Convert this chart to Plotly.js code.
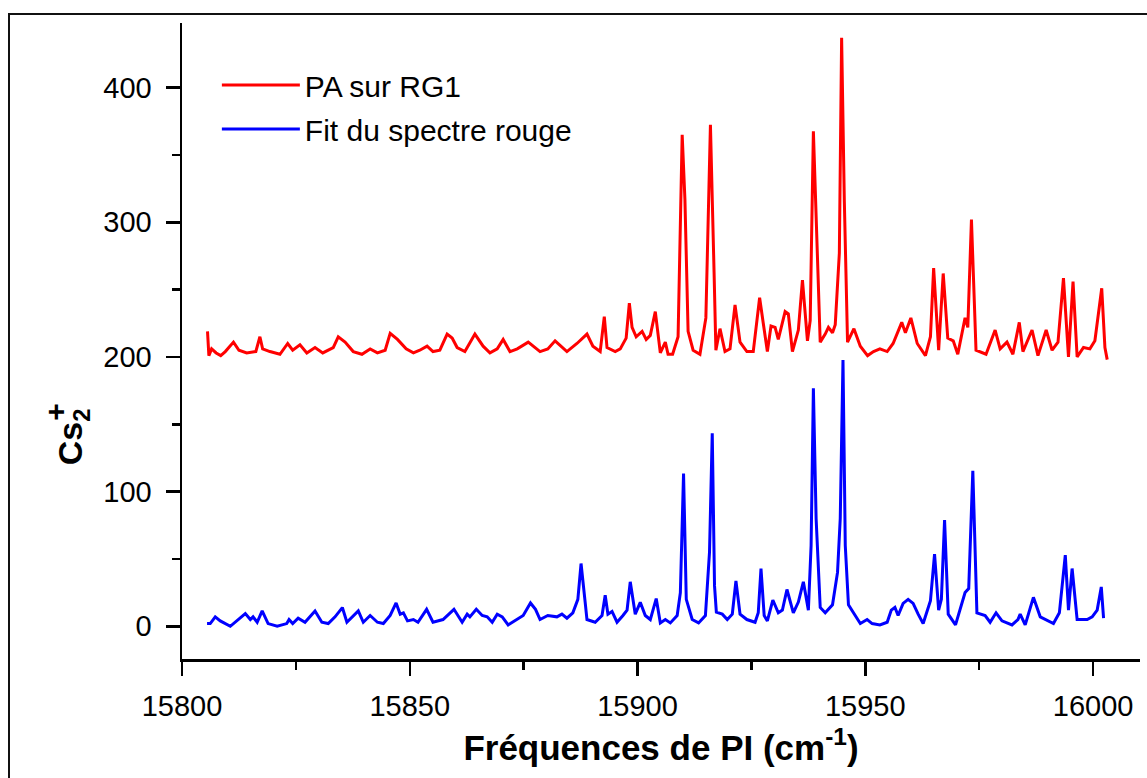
<!DOCTYPE html>
<html>
<head>
<meta charset="utf-8">
<script src="https://cdn.plot.ly/plotly-3.0.1.min.js"></script>
<style>
html,body{margin:0;padding:0;background:#fff;}
#wrap{position:relative;width:1147px;height:778px;overflow:hidden;}
#chart{position:absolute;left:0;top:0;width:1147px;height:778px;}
#frame{position:absolute;left:8px;top:13px;width:1200px;height:800px;border-left:2px solid #111;border-top:2px solid #111;pointer-events:none;}
</style>
</head>
<body>
<div id="wrap"><div id="chart"></div><div id="frame"></div></div>
<script>
// Red spectrum: "PA sur RG1"
const redX = [15805.6,15805.9,15806.5,15807.5,15808.5,15809.5,15811.3,15812.5,15814.2,15816.2,15817.1,15817.7,15819.3,15821.5,15823.2,15824.3,15825.9,15827.4,15829.2,15830.9,15833.2,15834.3,15835.8,15837.6,15839.5,15841.3,15842.9,15844.6,15845.7,15847.3,15849.2,15850.8,15852.2,15853.8,15855.1,15856.6,15858.2,15859.3,15860.4,15862.1,15864.3,15866.1,15867.6,15869.2,15870.5,15872,15873.6,15876,15878.6,15880.3,15881.9,15884.5,15886.7,15888.9,15890.2,15891.8,15892.7,15893.3,15895.1,15896.2,15897.5,15898.2,15898.8,15899.7,15901,15901.9,15902.8,15903.9,15905,15906.1,15906.7,15907.7,15908.9,15909.8,15910.4,15911.1,15912.2,15913.7,15915,15916,15916.8,15917.2,15918.1,15919.2,15920.3,15921.4,15922.5,15924,15925.4,15926.8,15927.6,15928.5,15929.3,15930.2,15930.9,15932.4,15933.1,15934,15935.3,15936.2,15937.3,15937.9,15938.6,15939.5,15940.1,15941.2,15941.9,15942.8,15943.4,15944.3,15944.8,15945.4,15946.1,15947.5,15948.9,15950.5,15951.8,15953.2,15954.8,15956.1,15958,15958.8,15960,15961.4,15963.2,15964.3,15965,15966.1,15967.1,15968.1,15969.3,15970.3,15971.9,15972.5,15973.3,15974.3,15976.5,15978.5,15979.6,15981.1,15982.4,15983.8,15984.6,15986.6,15987.9,15989.7,15991,15992.3,15993.5,15994.6,15995.6,15996.5,15997.9,15999.3,16000.4,16001.9,16002.6,16003.1];
const redY = [219,201,206,203,201,204,211,205,203,204,215,206,204,202,210,205,209,203,207,203,207,215,211,204,202,206,203,205,217.6,213,206,203,205,208,204,205,217,214,207,204,217,208,203,206,213,204,206,211,204,206,212,204,210,217,208,204,230,207,204,206,214,240,222,215,219,213,216,233.7,203,211,202,202,215,365,317,219,205,202,229,372.5,263,205,221,204,206,238.7,211,204,204,244,225,204,223,222,213,233.7,232,204,220,257,212,227,367.5,262,211,217,222,218,224,277,437,315,211,221,208,201,204,206,204,210,225.7,218,229,210,201,215,266,205,262,214,212,202,229,222,302,205,202,220,206,211,202,225.7,204,220,201,220,205,211,258.5,200,256,200,207,206,212,251,207,198];

// Blue spectrum: "Fit du spectre rouge"
const blueX = [15805.5,15806.2,15807.3,15808.4,15810.6,15812.1,15813.9,15815,15815.6,15816.5,15817.6,15818.9,15820.9,15823,15823.5,15824.3,15825.5,15827,15829.2,15830.7,15832.1,15833.6,15835.2,15836.2,15838.7,15839.8,15841.3,15842.9,15844.2,15845.7,15847,15847.9,15848.6,15849.5,15850.8,15851.8,15853.7,15855.1,15857.3,15859.7,15861.5,15862.6,15863.2,15864.6,15865.9,15867,15868.1,15869.2,15870.3,15871.6,15873.6,15874.9,15876.5,15877.6,15878.6,15880.3,15882.3,15883.4,15884.5,15885.2,15885.8,15886.9,15887.6,15888.5,15888.9,15890.7,15892.2,15892.9,15893.5,15894.4,15895.5,15896.8,15897.7,15898.4,15899.5,15900.6,15901.7,15902.8,15904.1,15905,15906.1,15907.2,15908.7,15909.4,15910.1,15910.7,15912,15913.4,15914.9,15915.8,15916.4,15916.9,15917.3,15918.6,15919.7,15920.8,15921.6,15922.5,15924,15925.8,15926.5,15927.1,15927.8,15928.5,15929.7,15930.9,15931.8,15932.8,15934.2,15935.3,15936.4,15937.5,15938.1,15938.6,15939.2,15940.1,15941.2,15942.8,15943.9,15944.5,15945.1,15945.6,15946.3,15947.4,15948.9,15950.4,15951.5,15953.2,15954.8,15955.7,15956.5,15957.2,15958.3,15959.4,15960.5,15961.6,15962.7,15964.3,15965.2,15966.1,15966.7,15967.4,15968.2,15969.8,15971.9,15972.7,15973.6,15974.5,15976.3,15977.4,15978.7,15980,15982.2,15983.5,15984,15985.1,15986.9,15988.4,15989.5,15991.3,15992.6,15993.9,15994.6,15995.4,15996.5,15998.7,15999.8,16000.9,16001.8,16002.3];
const blueY = [2,2,7,4,0,4,9.4,5,7,3,11.4,2,0,2,5,2,6,3,11.4,3,2,7,13.9,3,11.4,3,8,3,2,8,17.3,9,10,4,5,3,12.6,3,5,12.6,3,9,7,12.6,8,7,3,9,7,1,5,8,17.3,12.6,5,8,7,9,6,8,10,20,46.6,18,5,3,8,23,9,11,3,8,12,33,9,17.8,8,5,20.6,2.5,5,2.5,8,25,113.5,20,5,2.5,8,55,143.3,30,10.5,9,5,9,33.7,9,5,3,10,42.9,8,4,19.5,10,12,27.3,10,18,33,12,60,176.7,80,14,10,16,40,80,197.8,60,16,10,2,5,2,1,3,12,14,8,17,20,17,9,2,19,53.5,12,20,78.8,9,1,25,28,115.5,10,8,3,10,4,1,5,9,1,21.5,7,5,2,10,52.8,12,42.9,5,5,7,12,29.2,6];

const seriesNames = ["PA sur RG1", "Fit du spectre rouge"];
const xTicks = [15800, 15850, 15900, 15950, 16000];
const yTicks = [0, 100, 200, 300, 400];

const FONT = "Liberation Sans, Arial, sans-serif";

const traces = [
  {x: redX, y: redY, type: "scatter", mode: "lines", name: seriesNames[0], legendgroup: "a",
   line: {color: "#ff0000", width: 3}},
  {x: blueX, y: blueY, type: "scatter", mode: "lines", name: seriesNames[1], legendgroup: "b",
   line: {color: "#0000ff", width: 3}}
];

const layout = {
  width: 1147, height: 778,
  margin: {l: 182, r: 7, t: 23, b: 119},
  paper_bgcolor: "#ffffff", plot_bgcolor: "#ffffff",
  font: {family: FONT, color: "#000", size: 29},
  showlegend: true,
  legend: {x: 0.0364, y: 0.9434, xanchor: "left", yanchor: "top", bgcolor: "rgba(0,0,0,0)",
           itemwidth: 78,
           font: {size: 30, family: FONT}, traceorder: "grouped", tracegroupgap: 2},
  xaxis: {
    range: [15800, 16010.3], tickvals: xTicks, ticktext: xTicks.map(String),
    showgrid: false, zeroline: false, showline: true, linecolor: "#000", linewidth: 2.5,
    ticks: "outside", ticklen: 14, tickwidth: 2.5, tickcolor: "#000",
    minor: {dtick: 25, tick0: 15800, ticks: "outside", ticklen: 8, tickwidth: 2.5, tickcolor: "#000", showgrid: false},
    tickfont: {size: 29, family: FONT}, ticklabelstandoff: 6,
    title: {text: "<b>Fréquences de PI (cm<sup>-1</sup>)</b>", font: {size: 35, family: FONT}, standoff: 14},
    mirror: false, automargin: false
  },
  yaxis: {
    range: [-24.3, 448], tickvals: yTicks, ticktext: yTicks.map(String),
    showgrid: false, zeroline: false, showline: true, linecolor: "#000", linewidth: 2.5,
    ticks: "outside", ticklen: 14, tickwidth: 2.5, tickcolor: "#000",
    minor: {dtick: 50, tick0: 0, ticks: "outside", ticklen: 8, tickwidth: 2.5, tickcolor: "#000", showgrid: false},
    tickfont: {size: 29, family: FONT}, ticklabelstandoff: 8,
    automargin: false
  },
  annotations: [
    {text: "<b>Cs<sub>2</sub></b>", textangle: -90, xref: "paper", yref: "paper",
     x: -0.114, y: 0.350, xanchor: "center", yanchor: "middle", showarrow: false,
     font: {size: 34, family: FONT, color: "#000"}},
    {text: "<b>+</b>", textangle: -90, xref: "paper", yref: "paper",
     x: -0.132, y: 0.388, xanchor: "center", yanchor: "middle", showarrow: false,
     font: {size: 30, family: FONT, color: "#000"}}
  ]
};

Plotly.newPlot("chart", traces, layout, {staticPlot: true, displayModeBar: false});
</script>
</body>
</html>
